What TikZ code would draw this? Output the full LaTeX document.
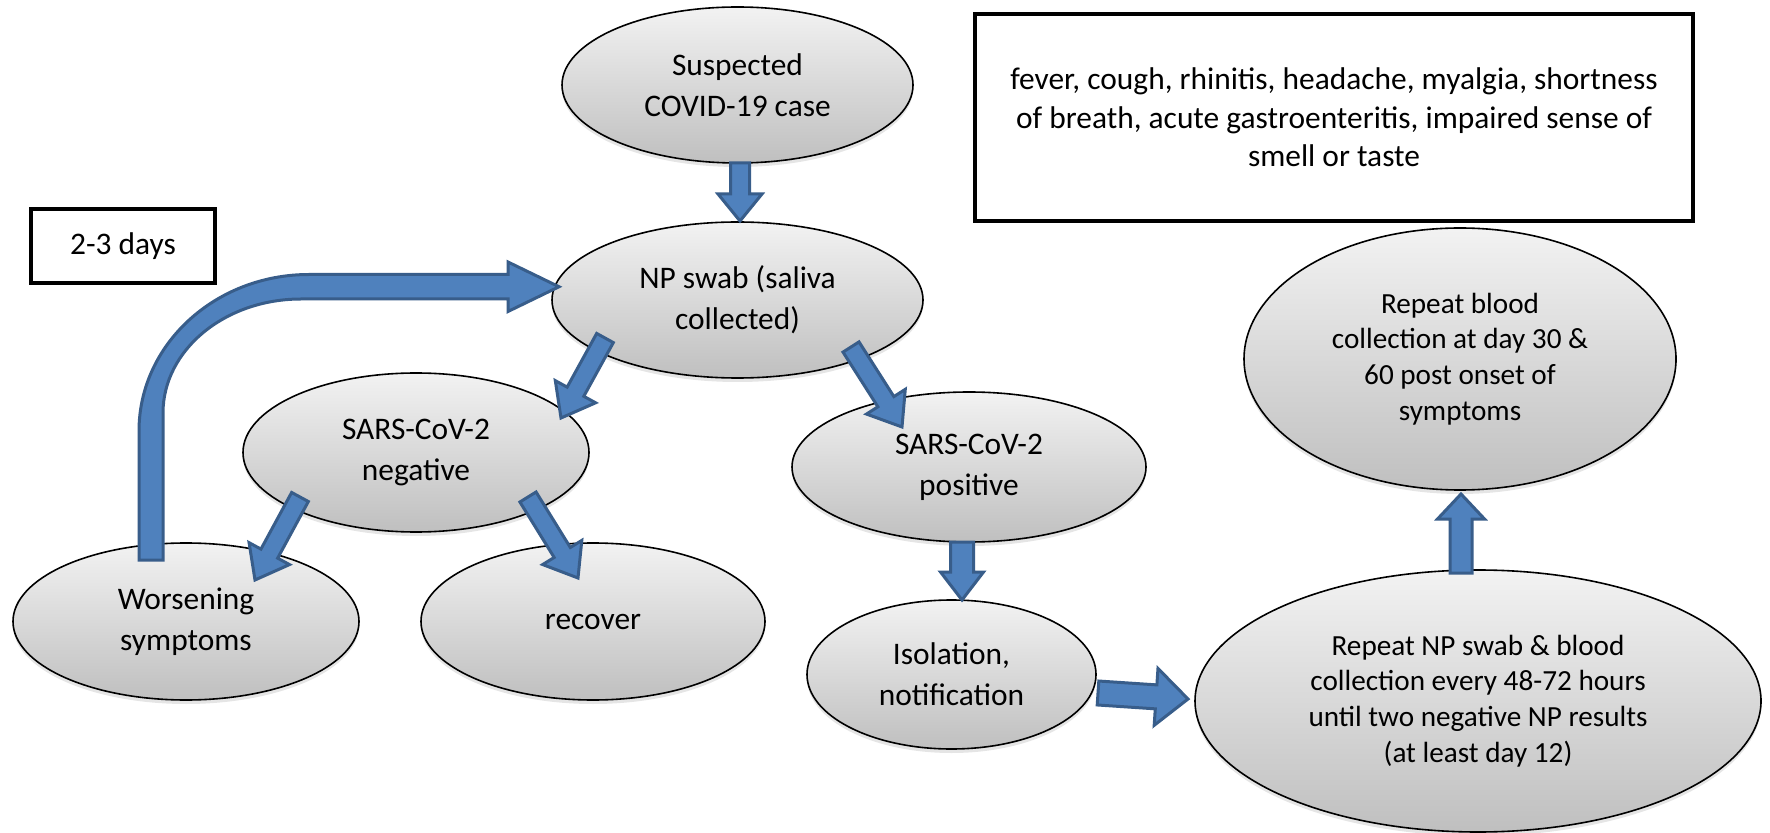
\documentclass[tikz,border=0pt]{standalone}
\usepackage{fontspec}
\setmainfont{Carlito}
\usetikzlibrary{shapes.geometric,calc,shadows}
\definecolor{arrfill}{HTML}{4F81BD}
\definecolor{arrline}{HTML}{385D8A}
\newcommand{\fsA}{\fontsize{15.7pt}{20.5pt}\selectfont}
\newcommand{\fsB}{\fontsize{14.6pt}{17.9pt}\selectfont}
\newcommand{\fsC}{\fontsize{15.7pt}{19.25pt}\selectfont}
% block arrow: tail, tip, half shaft, half head, head length
\newcommand{\blk}[5]{%
  \coordinate (blkB) at ($(#2)!#5!(#1)$);
  \draw[blockarrow] ($(#1)!#3!90:(#2)$) -- ($(blkB)!#3!90:(#2)$) -- ($(blkB)!#4!90:(#2)$) -- (#2)
    -- ($(blkB)!#4!-90:(#2)$) -- ($(blkB)!#3!-90:(#2)$) -- ($(#1)!#3!-90:(#2)$) -- cycle;
}
\tikzset{
  ell/.style={ellipse, draw=black, line width=0.8pt, top color=gray!10, bottom color=gray!50,
    inner sep=0pt, align=center, font=\fsA,
    drop shadow={opacity=0.2, shadow xshift=0pt, shadow yshift=-2pt}},
  bigell/.style={ell, font=\fsB},
  infobox/.style={draw=black, line width=2pt, fill=white, inner sep=0pt, align=center},
  blockarrow/.style={fill=arrfill, draw=arrline, line width=1.5pt, line join=miter}
}
\begin{document}
\begin{tikzpicture}[x=0.5pt, y=-0.5pt]
\useasboundingbox (0,0) rectangle (1770,833);
\fill[white] (0,0) rectangle (1770,833);

% ellipses
\node[ell, minimum width=175.5pt, minimum height=78pt] (susp) at (737.5,85) {Suspected\\COVID-19 case};
\node[ell, minimum width=185.5pt, minimum height=78pt] (np) at (737.5,300) {NP swab (saliva\\collected)};
\node[ell, minimum width=173pt, minimum height=79.5pt] (neg) at (416,452.5) {SARS-CoV-2\\negative};
\node[ell, minimum width=173pt, minimum height=78.5pt] (wors) at (186,621.5) {Worsening\\symptoms};
\node[ell, minimum width=172pt, minimum height=78.5pt] (rec) at (593,621.5) {recover};
\node[ell, minimum width=177pt, minimum height=75pt] (pos) at (969,467) {SARS-CoV-2\\positive};
\node[ell, minimum width=144.5pt, minimum height=74.5pt] (iso) at (951.5,674.5) {Isolation,\\notification};
\node[bigell, minimum width=283pt, minimum height=131pt] (rep) at (1478,701) {Repeat NP swab \& blood\\collection every 48-72 hours\\until two negative NP results\\(at least day 12)};
\node[bigell, minimum width=216pt, minimum height=131pt] (blood) at (1460,359) {Repeat blood\\collection at day 30 \&\\60 post onset of\\symptoms};

% boxes
\node[infobox, minimum width=92pt, minimum height=37pt, font=\fsA] (days) at (123,246) {2-3 days};
\node[infobox, minimum width=359pt, minimum height=103.5pt, font=\fsC] (info) at (1334,117.5)
  {fever, cough, rhinitis, headache, myalgia, shortness\\of breath, acute gastroenteritis, impaired sense of\\smell or taste};

% arrow end points
\coordinate (t1) at (740,163);  \coordinate (h1) at (740,221);
\coordinate (t2) at (605,338);  \coordinate (h2) at (561,418);
\coordinate (t3) at (851,347);  \coordinate (h3) at (902,427);
\coordinate (t4) at (300,497);  \coordinate (h4) at (255,580);
\coordinate (t5) at (528,497);  \coordinate (h5) at (578,578);
\coordinate (t6) at (962,542);  \coordinate (h6) at (962,600);
\coordinate (t7) at (1098,693); \coordinate (h7) at (1188,699);
\coordinate (t8) at (1461,573); \coordinate (h8) at (1461,494);

\blk{t1}{h1}{4.75pt}{11pt}{13.5pt}
\blk{t2}{h2}{4.75pt}{11.5pt}{15pt}
\blk{t3}{h3}{4.75pt}{11.5pt}{15pt}
\blk{t4}{h4}{4.75pt}{11.5pt}{15pt}
\blk{t5}{h5}{4.75pt}{11.5pt}{15pt}
\blk{t6}{h6}{5.75pt}{10.75pt}{14pt}
\blk{t7}{h7}{6pt}{14.25pt}{16pt}
\blk{t8}{h8}{5.5pt}{11.75pt}{12.5pt}

% curved arrow from Worsening symptoms back to NP swab
\coordinate (cvtip) at (559,286.75);
\draw[blockarrow] (139,560) -- (139,431)
  arc[start angle=180, end angle=270, x radius=170, y radius=156.5]
  -- (508,274.5) -- (508,262) -- (cvtip) -- (508,311.5) -- (508,299) -- (301,299)
  arc[start angle=270, end angle=180, x radius=138, y radius=114]
  -- (163,560) -- cycle;
\end{tikzpicture}
\end{document}
